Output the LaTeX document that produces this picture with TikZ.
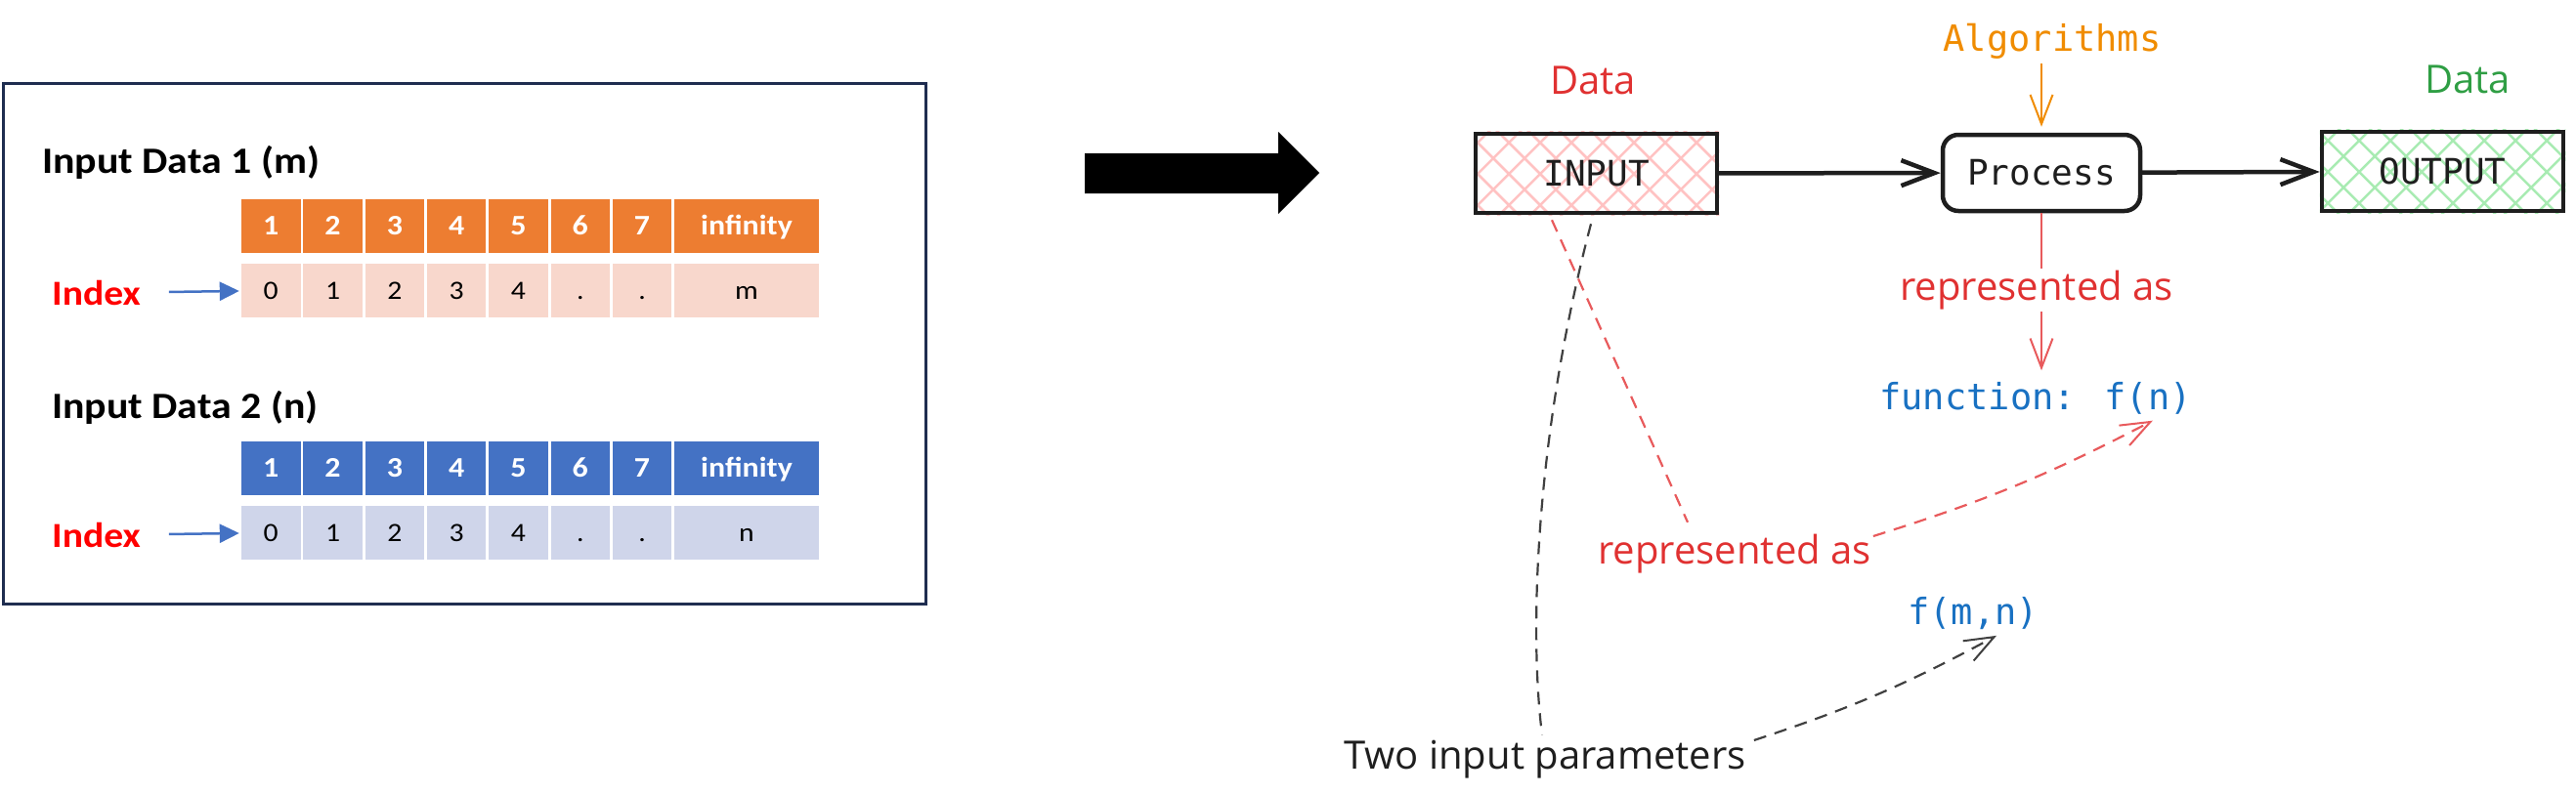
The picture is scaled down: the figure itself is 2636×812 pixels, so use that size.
\documentclass[tikz,border=0pt]{standalone}
\usepackage{fontspec}
\usetikzlibrary{arrows.meta,calc}
\newfontfamily\calib[FakeStretch=1.1]{Carlito}
\newfontfamily\mono{DejaVu Sans Mono}
\newfontfamily\hand{Open Sans}
\definecolor{navy}{HTML}{1F2D50}
\definecolor{orH}{HTML}{ED7D31}
\definecolor{orL}{HTML}{F8D7CC}
\definecolor{blH}{HTML}{4472C4}
\definecolor{blL}{HTML}{CFD5EA}
\definecolor{idxred}{HTML}{FF0000}
\definecolor{hred}{HTML}{E03131}
\definecolor{lred}{HTML}{E85A5C}
\definecolor{horange}{HTML}{F08C00}
\definecolor{hgreen}{HTML}{2F9E44}
\definecolor{fblue}{HTML}{1971C2}
\definecolor{ink}{HTML}{1E1E1E}
\definecolor{hatchR}{HTML}{FFC2C2}
\definecolor{hatchG}{HTML}{A8EBB2}
\pgfdeclarelayer{bg}
\pgfsetlayers{bg,main}
\begin{document}
\begin{tikzpicture}[x=1pt,y=-1pt,
  title/.style={font=\calib\bfseries\fontsize{38}{44}\selectfont, inner sep=0, anchor=base west},
  idx/.style={font=\calib\bfseries\fontsize{36}{42}\selectfont, text=idxred, inner sep=0, anchor=west},
  hcell/.style={minimum height=55pt, minimum width=60.5pt, inner sep=0, text height=18.5pt, text depth=0pt, text=white, font=\calib\bfseries\fontsize{29}{34}\selectfont},
  dcell/.style={minimum height=55pt, minimum width=60.5pt, inner sep=0, text height=17pt, text depth=0pt, text=black, font=\calib\fontsize{27}{32}\selectfont},
  idxarrow/.style={draw=blH, line width=2.5pt, -{Triangle[length=20pt,width=19pt]}, shorten <=29pt, shorten >=2pt},
  box/.style={draw=ink, line width=4.5pt, inner sep=0, text=ink, font=\mono\fontsize{36}{42}\selectfont},
  monotext/.style={font=\mono\fontsize{37}{44}\selectfont, inner sep=2pt},
  handtext/.style={font=\hand\fontsize{40}{46}\selectfont, inner sep=2pt},
  hatchline/.style={line width=2.5pt},
  thickarrow/.style={draw=ink, line width=4.5pt, line cap=round, -{Straight Barb[length=34pt,width=26pt,line width=4.5pt]}},
  thinhead/.style={-{Straight Barb[length=30pt,width=23pt,line width=2pt]}},
  reddash/.style={draw=lred, line width=2.2pt, dash pattern=on 13pt off 9pt},
  blackdash/.style={draw=ink!85, line width=2.2pt, dash pattern=on 13pt off 9pt}
]
\useasboundingbox (0,0) rectangle (2636,812);

% ---------- left panel ----------
\node[draw=navy, line width=3pt, minimum width=944pt, minimum height=533pt, inner sep=0] (panel) at (475,351.5) {};
\node[title] (t1) at (43,177) {Input Data 1 (m)};
\node[title] (t2) at (53,428) {Input Data 2 (n)};
\node[idx] (i1) at (53,300) {Index};
\node[idx] (i2) at (53,548) {Index};

\foreach \n/\lab/\va/\vb in {1/1/0/0,2/2/1/1,3/3/2/2,4/4/3/3,5/5/4/4,6/6/./.,7/7/./.} {
  \pgfmathsetmacro\cx{277.25+63.3*(\n-1)}
  \node[hcell, fill=orH] (a\n) at (\cx,231.5) {\lab};
  \node[dcell, fill=orL] (b\n) at (\cx,297.5) {\va};
  \node[hcell, fill=blH] (c\n) at (\cx,479.5) {\lab};
  \node[dcell, fill=blL] (d\n) at (\cx,545.5) {\vb};
}
\node[hcell, fill=orH, minimum width=148pt] (a8) at (764,231.5) {infinity};
\node[dcell, fill=orL, minimum width=148pt] (b8) at (764,297.5) {m};
\node[hcell, fill=blH, minimum width=148pt] (c8) at (764,479.5) {infinity};
\node[dcell, fill=blL, minimum width=148pt] (d8) at (764,545.5) {n};

\draw[idxarrow] (i1) -- (b1);
\draw[idxarrow] (i2) -- (d1);

% ---------- big arrow ----------
\fill[black] (1110,157) -- (1308,157) -- (1308,135) -- (1350,177) -- (1308,219) -- (1308,198) -- (1110,198) -- cycle;

% ---------- right diagram ----------
\node[box, minimum width=247pt, minimum height=81pt] (in) at (1633.5,177.5) {INPUT};
\node[box, rounded corners=16pt, minimum width=202pt, minimum height=78pt] (proc) at (2089,177) {Process};
\node[box, minimum width=247pt, minimum height=81pt] (out) at (2499.5,175.5) {OUTPUT};

\begin{pgfonlayer}{bg}
  \begin{scope}
    \clip (in.south west) rectangle (in.north east);
    \foreach \xx in {1400,1432,...,1880} {
      \draw[hatchline, draw=hatchR] (\xx,130) -- ++(95,95) (\xx,130) -- ++(-95,95);
    }
  \end{scope}
  \begin{scope}
    \clip (out.south west) rectangle (out.north east);
    \foreach \xx in {2270,2302,...,2750} {
      \draw[hatchline, draw=hatchG] (\xx,128) -- ++(95,95) (\xx,128) -- ++(-95,95);
    }
  \end{scope}
\end{pgfonlayer}

\node[handtext, text=hred] (d1) at (1630,82) {Data};
\node[monotext, text=horange, anchor=base] (alg) at (2100,52) {Algorithms};
\node[handtext, text=hgreen] (d2) at (2525,81) {Data};
\node[handtext, text=hred] (rep1) at (2084,297) {represented as};
\node[monotext, text=fblue] (fn) at (2083,408) {function: f(n)};
\node[handtext, text=hred] (rep2) at (1775,567) {represented as};
\node[monotext, text=fblue] (fmn) at (2019,628) {f(m,n)};
\node[handtext, text=ink] (two) at (1581,778) {Two input parameters};

\draw[thickarrow] (in) -- (proc);
\draw[thickarrow] (proc) -- (out);

\draw[draw=horange, line width=2pt, thinhead, shorten <=3pt, shorten >=6pt] (proc.north |- alg.south) -- (proc.north);
\draw[draw=lred, line width=2pt] (proc.south) -- (proc.south |- rep1.north);
\draw[draw=lred, line width=2pt, thinhead, shorten >=10pt] (rep1.south -| proc.south) -- (proc.south |- fn.north);

\draw[reddash] ($(in.south)+(-45.5,5)$) -- ($(rep2.north)+(-48,-10)$);
\draw[reddash, thinhead] ($(rep2.east)+(0,-18)$) to[bend right=5] ($(fn.south east)+(-42,4)$);
\draw[blackdash] ($(in.south)+(-5.5,9)$) .. controls (1570,450) and (1565,650) .. ($(two.north)+(-3,-4)$);
\draw[blackdash, thinhead] ($(two.east)+(6,-20)$) to[bend right=5] ($(fmn.south)+(24,4)$);
\end{tikzpicture}
\end{document}
